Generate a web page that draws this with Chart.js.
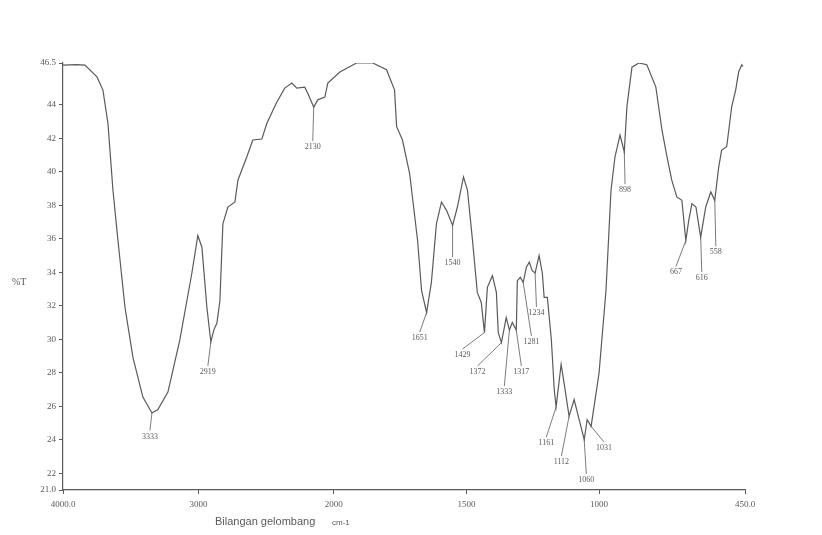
<!DOCTYPE html>
<html>
<head>
<meta charset="utf-8">
<script src="https://cdn.jsdelivr.net/npm/chart.js@4.4.1/dist/chart.umd.min.js"></script>
<style>
  html, body { margin: 0; padding: 0; background: #fff; }
  #wrap { width: 822px; height: 535px; }
</style>
</head>
<body>
<div id="wrap"><canvas id="ir-chart"></canvas></div>
<script>
// IR spectrum, wavenumber (cm-1) vs %T
const WAVENUMBER = [4000,3900,3838,3749,3705,3668,3631,3594,3542,3483,3410,3343,3299,3225,3137,3048,3004,2974,2937,2908,2886,2863,2841,2819,2782,2730,2708,2642,2598,2531,2494,2421,2362,2310,2273,2214,2192,2148,2118,2066,2044,1977,1914,1853,1801,1771,1763,1741,1714,1684,1669,1650,1632,1613,1594,1575,1552,1534,1511,1496,1477,1459,1444,1432,1421,1402,1387,1380,1368,1350,1338,1327,1312,1308,1297,1286,1274,1263,1252,1241,1226,1214,1207,1195,1180,1169,1162,1143,1132,1113,1094,1075,1056,1045,1030,1000,974,955,940,921,905,895,876,850,820,786,763,744,726,707,688,673,662,650,635,617,598,579,564,549,538,519,500,485,474,462,458];
const TRANSMITTANCE = [46.37,46.4,46.37,45.67,44.88,42.9,38.9,35.9,31.9,28.9,26.55,25.6,25.8,26.85,29.96,33.96,36.2,35.5,31.9,29.84,30.55,30.97,32.3,36.9,37.9,38.2,39.5,40.9,41.9,41.96,42.9,44.16,45.0,45.3,45.0,45.06,44.7,43.87,44.3,44.46,45.3,45.96,46.5,46.5,46.1,44.9,42.7,41.9,39.9,35.9,32.9,31.6,33.4,36.9,38.2,37.7,36.8,37.9,39.7,38.9,35.9,32.8,32.2,30.4,33.1,33.8,32.8,30.4,29.8,31.3,30.55,31.0,30.55,33.5,33.7,33.4,34.3,34.6,34.1,33.96,35.0,33.96,32.5,32.5,30.0,27.0,25.96,28.5,27.4,25.4,26.4,25.2,24.0,25.2,24.8,28.0,32.9,38.9,40.9,42.2,41.2,43.9,46.25,46.5,46.4,45.06,42.5,40.9,39.5,38.5,38.3,35.9,37.1,38.1,37.9,36.1,37.9,38.8,38.3,40.3,41.3,41.5,43.9,44.9,45.96,46.4,46.3];

const X_TICKS = [4000, 3000, 2000, 1500, 1000, 450];
const X_TICK_LABELS = ['4000.0', '3000', '2000', '1500', '1000', '450.0'];
const Y_TICKS = [21, 22, 24, 26, 28, 30, 32, 34, 36, 38, 40, 42, 44, 46.5];
const Y_TICK_LABELS = ['21.0', '22', '24', '26', '28', '30', '32', '34', '36', '38', '40', '42', '44', '46.5'];

// peak labels: text, peak wavenumber / %T, label wavenumber / %T
const PEAK_TEXT = ['3333','2919','2130','1651','1540','1429','1372','1333','1317','1281','1234','1161','1112','1060','1031','898','667','616','558'];
const PEAK_WN   = [3343,2908,2148,1650,1552,1432,1368,1338,1312,1286,1241,1162,1113,1056,1030,905,673,617,564];
const PEAK_T    = [25.6,29.84,43.87,31.6,36.8,30.4,29.8,30.55,30.55,33.4,33.96,25.96,25.4,24.0,24.8,41.2,35.9,36.1,38.3];
const LABEL_WN  = [3358,2930,2155,1676,1552,1515,1458,1357,1293,1255,1236,1199,1142,1048,981,902,710,613,560];
const LABEL_T   = [24.2,28.05,41.48,30.07,34.55,29.06,28.05,26.85,28.05,29.84,31.57,23.8,22.67,21.6,23.5,38.9,34.0,33.65,35.2];

// x axis is expanded 2x below 2000 cm-1, like the instrument chart
const BREAK = 0.397;
function toPos(wn) {
  if (wn >= 2000) return (4000 - wn) / 2000 * BREAK;
  return BREAK + (2000 - wn) / 1550 * (1 - BREAK);
}
function fromPos(p) {
  if (p <= BREAK) return 4000 - p / BREAK * 2000;
  return 2000 - (p - BREAK) / (1 - BREAK) * 1550;
}

class IrScale extends Chart.LinearScale {
  getPixelForValue(v) { return this.getPixelForDecimal(toPos(v)); }
  getValueForPixel(px) { return fromPos(this.getDecimalForPixel(px)); }
}
IrScale.id = 'irscale';
IrScale.defaults = Chart.LinearScale.defaults;
Chart.register(IrScale);

const INK = '#5a5a5a';

const peakLabels = {
  id: 'peakLabels',
  afterDatasetsDraw(chart) {
    const ctx = chart.ctx, xs = chart.scales.x, ys = chart.scales.y;
    ctx.save();
    ctx.strokeStyle = INK;
    ctx.fillStyle = INK;
    ctx.lineWidth = 0.8;
    ctx.font = '8px "Liberation Serif"';
    ctx.textAlign = 'center';
    ctx.textBaseline = 'middle';
    PEAK_TEXT.forEach((t, i) => {
      const px = xs.getPixelForValue(PEAK_WN[i]), py = ys.getPixelForValue(PEAK_T[i]);
      const lx = xs.getPixelForValue(LABEL_WN[i]), ly = ys.getPixelForValue(LABEL_T[i]);
      ctx.beginPath();
      ctx.moveTo(px, py);
      ctx.lineTo(lx, ly - 6);
      ctx.stroke();
      ctx.fillText(t, lx, ly);
    });
    // axis titles
    ctx.font = '10px "Liberation Serif"';
    ctx.textAlign = 'left';
    ctx.fillText('%T', 12, 282);
    ctx.font = '11px "Liberation Sans"';
    ctx.fillText('Bilangan gelombang', 215, 522);
    ctx.font = '8px "Liberation Sans"';
    ctx.fillText('cm-1', 332, 523);
    ctx.restore();
  }
};

new Chart(document.getElementById('ir-chart'), {
  type: 'line',
  data: {
    datasets: [{
      data: WAVENUMBER.map((w, i) => ({ x: w, y: TRANSMITTANCE[i] })),
      borderColor: INK,
      borderWidth: 1.2,
      pointRadius: 0,
      tension: 0,
      fill: false
    }]
  },
  options: {
    responsive: true,
    maintainAspectRatio: false,
    animation: false,
    layout: { padding: { top: 63, right: 77, left: 0, bottom: 0 } },
    plugins: { legend: { display: false }, tooltip: { enabled: false } },
    scales: {
      x: {
        type: 'irscale',
        min: 450,
        max: 4000,
        afterBuildTicks: s => { s.ticks = X_TICKS.map(v => ({ value: v })); },
        afterFit: s => { s.height = 45; },
        ticks: {
          autoSkip: false,
          maxRotation: 0,
          padding: 5,
          color: INK,
          font: { family: 'Liberation Serif', size: 9 },
          callback: (v, i) => X_TICK_LABELS[i]
        },
        grid: { display: true, drawOnChartArea: false, tickLength: 4, color: INK },
        border: { display: true, color: INK, width: 1.2 }
      },
      y: {
        min: 21,
        max: 46.5,
        afterBuildTicks: s => { s.ticks = Y_TICKS.map(v => ({ value: v })); },
        afterFit: s => { s.width = 63; },
        ticks: {
          autoSkip: false,
          padding: 3,
          color: INK,
          font: { family: 'Liberation Serif', size: 9 },
          callback: (v, i) => Y_TICK_LABELS[i]
        },
        grid: { display: true, drawOnChartArea: false, tickLength: 4, color: INK },
        border: { display: true, color: INK, width: 1.2 }
      }
    }
  },
  plugins: [peakLabels]
});
</script>
</body>
</html>
